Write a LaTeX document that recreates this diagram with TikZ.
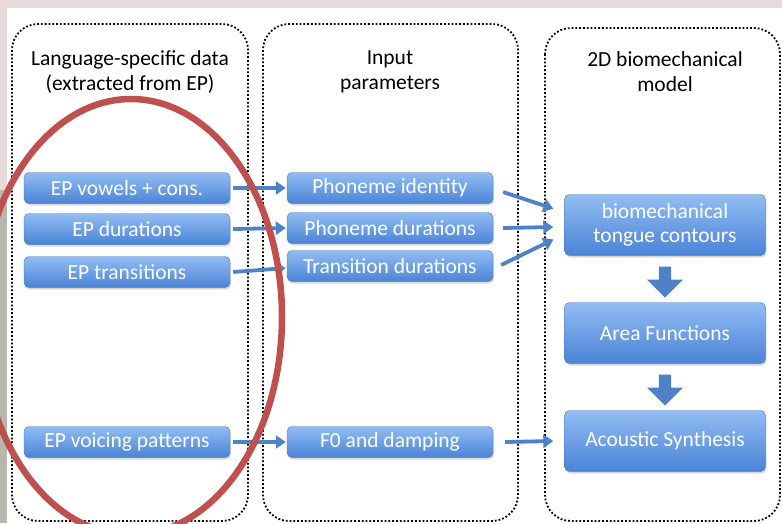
\documentclass[tikz,border=0pt]{standalone}
\usepackage{fontspec}
\setmainfont{Carlito}
\usetikzlibrary{calc,arrows.meta,shapes.arrows,shadows}
\definecolor{boxtop}{HTML}{92BDF3}
\definecolor{boxbot}{HTML}{4A83D6}
\definecolor{arrowblue}{HTML}{4F81C9}
\definecolor{ringred}{HTML}{C0504D}
\definecolor{paper}{HTML}{E7DADA}
\definecolor{photo}{HTML}{B9B6AE}
\begin{document}
\begin{tikzpicture}[x=1pt,y=-1pt,
  frame/.style={draw,dotted,line width=1.8pt,rounded corners=26pt},
  head/.style={align=center,font=\fontsize{21.5}{25}\selectfont},
  blk/.style={rounded corners=5pt,top color=boxtop,bottom color=boxbot,draw=boxbot!90!black,
    text=white,font=\fontsize{21.5}{24}\selectfont,minimum width=206pt,minimum height=31pt,
    align=center,drop shadow={opacity=0.3,shadow xshift=1pt,shadow yshift=-2pt}},
  con/.style={-{Triangle[width=13pt,length=10pt]},line width=3.8pt,draw=arrowblue,shorten >=1pt},
  down/.style={single arrow,shape border rotate=270,fill=arrowblue,minimum height=31pt,
    minimum width=36pt,single arrow head extend=8pt,inner sep=4pt}]
\useasboundingbox (0,0) rectangle (782,523);
\fill[paper] (0,0) rectangle (782,523);
\fill[photo] (0,190) rectangle (7,523);
\fill[white] (7,8) rectangle (782,523);

% columns
\draw[frame] (12,24) rectangle (248,521);
\draw[frame] (263,24) rectangle (518,521);
\draw[frame] (545,28) rectangle (780,521);
\node[head] (h1) at (130,72) {Language-specific data\\(extracted from EP)};
\node[head] (h2) at (390,72) {Input\\parameters};
\node[head] (h3) at (665,72) {2D biomechanical\\model};

% language data
\node[blk] (v1) at (127,188) {EP vowels + cons.};
\node[blk] (v2) at (127,229) {EP durations};
\node[blk] (v3) at (127,272) {EP transitions};
\node[blk] (v4) at (127,442) {EP voicing patterns};

% input parameters
\node[blk] (p1) at (390,188) {Phoneme identity};
\node[blk] (p2) at (390,228) {Phoneme durations};
\node[blk] (p3) at (390,266) {Transition durations};
\node[blk] (p4) at (390,442) {F0 and damping};

% model
\node[blk,minimum width=201pt,minimum height=61pt] (m1) at (665,225) {biomechanical\\tongue contours};
\node[blk,minimum width=201pt,minimum height=61pt] (m2) at (665,333) {Area Functions};
\node[blk,minimum width=201pt,minimum height=61pt] (m3) at (665,441) {Acoustic Synthesis};
\coordinate (t1) at ($(m1.west)+(-10,-16)$);
\coordinate (t2) at ($(m1.west)+(-10,2)$);
\coordinate (t3) at ($(m1.west)+(-10,14)$);

\draw[con] (v1.east) ++(3,0) -- (p1.west);
\draw[con] (v2.east) ++(3,0) -- (p2.west);
\draw[con] (v3.east) ++(3,0) -- ($(p3.west)+(0,2)$);
\draw[con] (v4.east) ++(3,0) -- (p4.west);
\draw[con] (p1.east) ++(10,4) -- (t1);
\draw[con] (p2.east) ++(10,0) -- (t2);
\draw[con] (p3.east) ++(8,-1) -- (t3);
\draw[con] (p4.east) ++(12,0) -- ($(m3.west)+(-10,0)$);
\node[down] (d1) at ($(m1.south)!0.5!(m2.north)$) {};
\node[down] (d2) at ($(m2.south)!0.5!(m3.north)$) {};

\draw[ringred,line width=6.5pt] (131,317) ellipse (151pt and 218pt);
\end{tikzpicture}
\end{document}
